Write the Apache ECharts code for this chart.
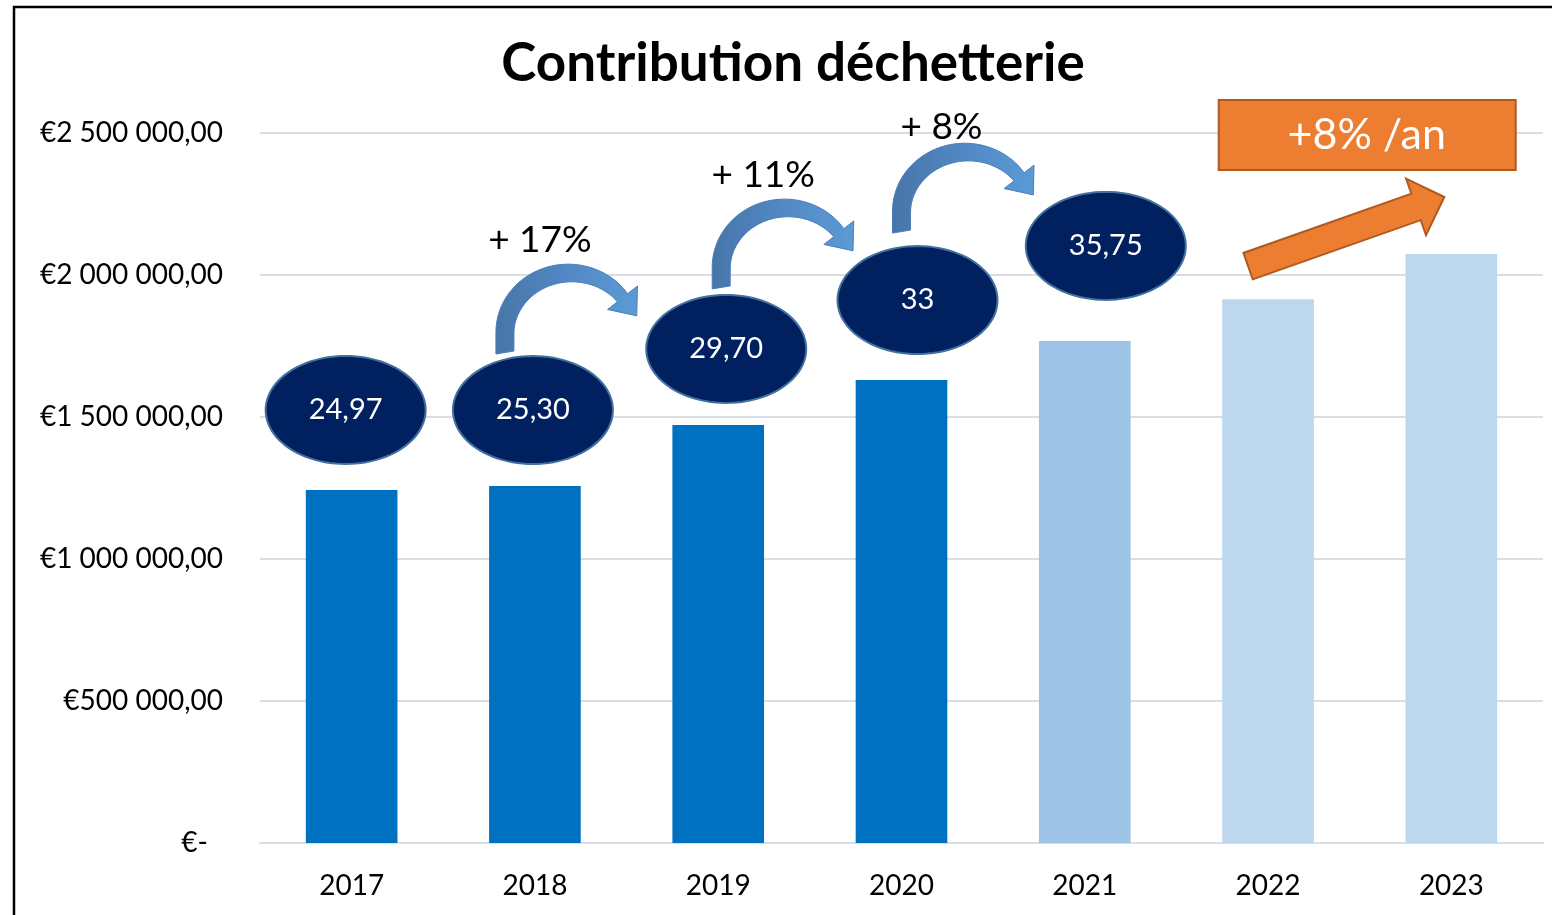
<!DOCTYPE html>
<html><head><meta charset="utf-8">
<script src="https://cdn.jsdelivr.net/npm/echarts@6/dist/echarts.min.js"></script>
<style>html,body{margin:0;padding:0;background:#fff}#c{width:1552px;height:915px}</style>
</head><body><div id="c"></div>
<script>
// ---- data ----
const titre = 'Contribution déchetterie';
const categories = ['2017', '2018', '2019', '2020', '2021', '2022', '2023'];
const contributions = [1243000, 1257000, 1472000, 1630000, 1768000, 1915000, 2074000];
const tarifs = ['24,97', '25,30', '29,70', '33', '35,75'];          // 2017..2021
const hausses = ['+ 17%', '+ 11%', '+ 8%'];                         // 2018→2019, 2019→2020, 2020→2021
const tendance = '+8% /an';
const yMin = 0, yMax = 2500000, yStep = 500000;

// ---- styles / layout ----
const FONT = 'Lato';
const barColors = ['#0070C0', '#0070C0', '#0070C0', '#0070C0', '#9DC3E6', '#BDD7EE', '#BDD7EE'];
const ellipseNudge = [[-6, -80], [-2, -76], [8, -76], [16, -80], [21, -95]];
const arrowNudge = [[-30, -133], [3, -137], [0, -148]];
const pctNudge = [[35, -113], [42, -113], [40, -105]];

function ellipsePts(cx, cy, rx, ry) {
  const pts = [];
  for (let k = 0; k < 96; k++) {
    const a = k / 96 * Math.PI * 2;
    pts.push([cx + rx * Math.cos(a), cy + ry * Math.sin(a)]);
  }
  return pts;
}

function curvedArrowPts(tx, ty) {
  const a = 65, b = 60, ccx = 65, ccy = -20;
  const th0 = Math.PI, th1 = 36 / 180 * Math.PI;
  const outer = [], inner = [];
  const w0 = 18, w1 = 13;
  outer.push([tx - w0 / 2, ty + 1]); inner.push([tx + w0 / 2, ty - 2]);
  const N = 40;
  let last;
  for (let k = 0; k <= N; k++) {
    const f = k / N;
    const th = th0 + (th1 - th0) * f;
    const px = ccx + a * Math.cos(th), py = ccy - b * Math.sin(th);
    let nx = Math.cos(th) / a, ny = -Math.sin(th) / b;
    const nl = Math.hypot(nx, ny); nx /= nl; ny /= nl;
    const w = (w0 + (w1 - w0) * f + 3 * Math.sin(f * Math.PI)) / 2;
    outer.push([tx + px + nx * w, ty + py + ny * w]);
    inner.push([tx + px - nx * w, ty + py - ny * w]);
    last = {px, py, nx, ny, th};
  }
  let dx = a * Math.sin(last.th), dy = b * Math.cos(last.th);
  const dl = Math.hypot(dx, dy); dx /= dl; dy /= dl;
  const hw = 19, hl = 23;
  const bx = tx + last.px, by = ty + last.py;
  const head = [
    [bx + last.nx * hw, by + last.ny * hw],
    [bx + dx * hl, by + dy * hl],
    [bx - last.nx * hw, by - last.ny * hw]
  ];
  return outer.concat(head, inner.reverse());
}

function blockArrowPts(T, P) {
  let dx = P[0] - T[0], dy = P[1] - T[1];
  const L = Math.hypot(dx, dy); dx /= L; dy /= L;
  const nx = -dy, ny = dx;
  const sw = 14, hw = 30, hl = 30;
  const S = [P[0] - dx * hl, P[1] - dy * hl];
  return [
    [T[0] + nx * sw, T[1] + ny * sw],
    [S[0] + nx * sw, S[1] + ny * sw],
    [S[0] + nx * hw, S[1] + ny * hw],
    P,
    [S[0] - nx * hw, S[1] - ny * hw],
    [S[0] - nx * sw, S[1] - ny * sw],
    [T[0] - nx * sw, T[1] - ny * sw]
  ];
}

function fmtY(v) {
  if (v === 0) return '{z|€-}';
  return '€' + String(v).replace(/\B(?=(\d{3})+(?!\d))/g, ' ') + ',00';
}

const chart = echarts.init(document.getElementById('c'), null, {renderer: 'canvas'});
chart.setOption({
  animation: false,
  backgroundColor: '#fff',
  graphic: [
    {type: 'rect', shape: {x: 14, y: 7, width: 1700, height: 1100}, style: {fill: 'none', stroke: '#000', lineWidth: 2.5}, z: 100},
    {type: 'text', x: 793, y: 64, style: {text: titre, fontFamily: FONT, fontSize: 53, fontWeight: 'bold', fill: '#000', align: 'center', verticalAlign: 'middle'}}
  ],
  grid: {left: 260, right: 9, top: 133, bottom: 72, containLabel: false},
  xAxis: {
    type: 'category', data: categories,
    axisLine: {show: true, lineStyle: {color: '#D9DEE6', width: 2}},
    axisTick: {show: false},
    axisLabel: {color: '#000', fontFamily: FONT, fontSize: 28, margin: 29}
  },
  yAxis: {
    type: 'value', min: yMin, max: yMax, interval: yStep,
    axisLine: {show: false}, axisTick: {show: false},
    splitLine: {lineStyle: {color: '#D9DEE6', width: 2}},
    axisLabel: {
      color: '#000', fontFamily: FONT, fontSize: 28, margin: 37, formatter: fmtY,
      rich: {z: {color: '#000', fontFamily: FONT, fontSize: 28, padding: [0, 15, 0, 0]}}
    }
  },
  series: [
    {
      type: 'bar', barWidth: '50%',
      data: contributions.map((v, i) => ({value: v, itemStyle: {color: barColors[i]}}))
    },
    {
      type: 'custom', clip: false, z: 5,
      encode: {x: 0, y: 1},
      data: tarifs.map((t, i) => [i, contributions[i]]),
      renderItem: function (params, api) {
        const i = params.dataIndex;
        const p = api.coord([api.value(0), api.value(1)]);
        const cx = p[0] + ellipseNudge[i][0], cy = p[1] + ellipseNudge[i][1];
        return {type: 'group', children: [
          {type: 'polygon', shape: {points: ellipsePts(cx, cy, 80, 54)}, style: {fill: '#002060', stroke: '#41719C', lineWidth: 2}},
          {type: 'text', style: {x: cx, y: cy, text: tarifs[i], fill: '#fff', fontFamily: FONT, fontSize: 29, align: 'center', verticalAlign: 'middle'}}
        ]};
      }
    },
    {
      type: 'custom', clip: false, z: 6,
      encode: {x: 0, y: 1},
      data: hausses.map((h, i) => [i + 1, contributions[i + 1]]),
      renderItem: function (params, api) {
        const i = params.dataIndex;
        const p = api.coord([api.value(0), api.value(1)]);
        const tx = p[0] + arrowNudge[i][0], ty = p[1] + arrowNudge[i][1];
        return {type: 'group', children: [
          {type: 'polygon', shape: {points: curvedArrowPts(tx, ty)},
            style: {fill: new echarts.graphic.LinearGradient(0, 0, 1, 0, [{offset: 0, color: '#4775A8'}, {offset: 0.5, color: '#5288C4'}, {offset: 1, color: '#5B9BD5'}]), stroke: '#4A7EBB', lineWidth: 1}},
          {type: 'text', style: {x: tx + pctNudge[i][0], y: ty + pctNudge[i][1], text: hausses[i], fill: '#000', fontFamily: FONT, fontSize: 37, align: 'center', verticalAlign: 'middle'}}
        ]};
      }
    },
    {
      type: 'custom', clip: false, z: 6,
      encode: {x: [0, 2], y: [1, 3]},
      data: [[5, contributions[5], 6, contributions[6]]],
      renderItem: function (params, api) {
        const p1 = api.coord([api.value(0), api.value(1)]);
        const p2 = api.coord([api.value(2), api.value(3)]);
        const top = api.coord([api.value(2), yMax]);
        const T = [p1[0] - 20, p1[1] - 33], P = [p2[0] - 7, p2[1] - 57];
        const bx = (p1[0] + p2[0]) / 2 + 7, by = top[1] + 2;
        return {type: 'group', children: [
          {type: 'polygon', shape: {points: blockArrowPts(T, P)}, style: {fill: '#ED7D31', stroke: '#AE5A21', lineWidth: 2}},
          {type: 'rect', shape: {x: bx - 148, y: by - 35, width: 297, height: 70}, style: {fill: '#ED7D31', stroke: '#AE5A21', lineWidth: 2}},
          {type: 'text', style: {x: bx, y: by, text: tendance, fill: '#fff', fontFamily: FONT, fontSize: 43, align: 'center', verticalAlign: 'middle'}}
        ]};
      }
    }
  ]
});
</script>
</body></html>
